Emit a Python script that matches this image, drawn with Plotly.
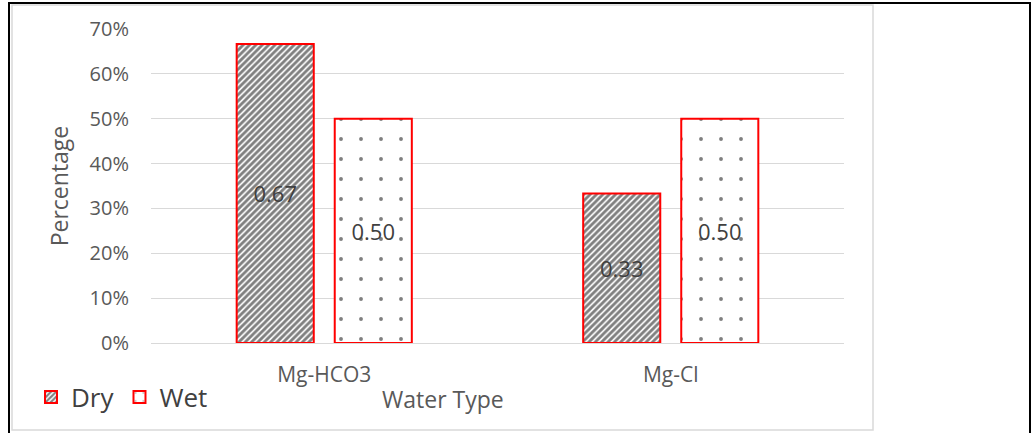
import plotly.graph_objects as go

categories = ["Mg-HCO3", "Mg-Cl"]
dry_values = [0.6667, 0.3333]
wet_values = [0.50, 0.50]
dry_labels = ["0.67", "0.33"]
wet_labels = ["0.50", "0.50"]
y_ticks = [0, 0.1, 0.2, 0.3, 0.4, 0.5, 0.6, 0.7]

W, H = 1034, 433
L, R, T, B = 151, 844, 29, 343

def px(x):
    return (x - L) / (R - L)

def py(y):
    return (B - y) / (B - T)

font_fam = "Open Sans, Calibri, Carlito, sans-serif"

fig = go.Figure()
fig.add_trace(go.Bar(
    name="Dry", x=categories, y=dry_values, text=dry_labels,
    textposition="inside", insidetextanchor="middle", textangle=0,
    textfont=dict(size=22, color="#404040", family=font_fam),
    marker=dict(color="white", line=dict(color="#ff0000", width=2),
                pattern=dict(shape="/", fgcolor="black", bgcolor="white", size=4.5, solidity=0.62)),
))
fig.add_trace(go.Bar(
    name="Wet", x=categories, y=wet_values, text=wet_labels,
    textposition="inside", insidetextanchor="middle", textangle=0,
    textfont=dict(size=22, color="#404040", family=font_fam),
    marker=dict(color="white", line=dict(color="#ff0000", width=2),
                pattern=dict(shape=".", fgcolor="black", bgcolor="white", size=20, solidity=0.03)),
))

shapes = [
    dict(type="rect", xref="paper", yref="paper", x0=px(12), x1=px(873), y0=py(430), y1=py(5),
         line=dict(color="#d9d9d9", width=1.5), layer="below"),
    dict(type="line", xref="paper", yref="paper", x0=px(9), x1=px(9), y0=py(3), y1=py(433),
         line=dict(color="black", width=2)),
    dict(type="line", xref="paper", yref="paper", x0=px(8), x1=px(1031), y0=py(3), y1=py(3),
         line=dict(color="black", width=2)),
    dict(type="line", xref="paper", yref="paper", x0=px(1030), x1=px(1030), y0=py(3), y1=py(433),
         line=dict(color="black", width=2)),
]

fig.update_layout(
    width=W, height=H,
    margin=dict(l=L, r=W - R, t=T, b=H - B, autoexpand=False),
    paper_bgcolor="white", plot_bgcolor="white",
    barmode="group", bargap=0.434, bargroupgap=0.214,
    font=dict(family=font_fam, color="#595959"),
    showlegend=True,
    legend=dict(orientation="h", xref="container", yref="container",
                x=31 / W, y=(H - 397) / H, xanchor="left", yanchor="middle",
                font=dict(size=26, color="#404040", family=font_fam),
                itemwidth=30, tracegroupgap=0, bgcolor="rgba(0,0,0,0)"),
    xaxis=dict(showgrid=False, showline=False, ticks="", zeroline=False,
               tickfont=dict(size=21, color="#595959"), ticklabelstandoff=17),
    yaxis=dict(range=[0, 0.7], tickvals=y_ticks, tickformat=".0%",
               showgrid=True, gridcolor="#d9d9d9", gridwidth=1.2,
               zeroline=True, zerolinecolor="#d9d9d9", zerolinewidth=1.2,
               ticks="", tickfont=dict(size=20, color="#595959"), ticklabelstandoff=21,
               title=dict(text="Percentage", font=dict(size=23, color="#595959"), standoff=14)),
    shapes=shapes,
    annotations=[dict(text="Water Type", xref="paper", yref="paper", x=px(443), y=py(399),
                      showarrow=False, xanchor="center", yanchor="middle",
                      font=dict(size=23, color="#595959", family=font_fam))],
)

fig.write_html("out.html")
